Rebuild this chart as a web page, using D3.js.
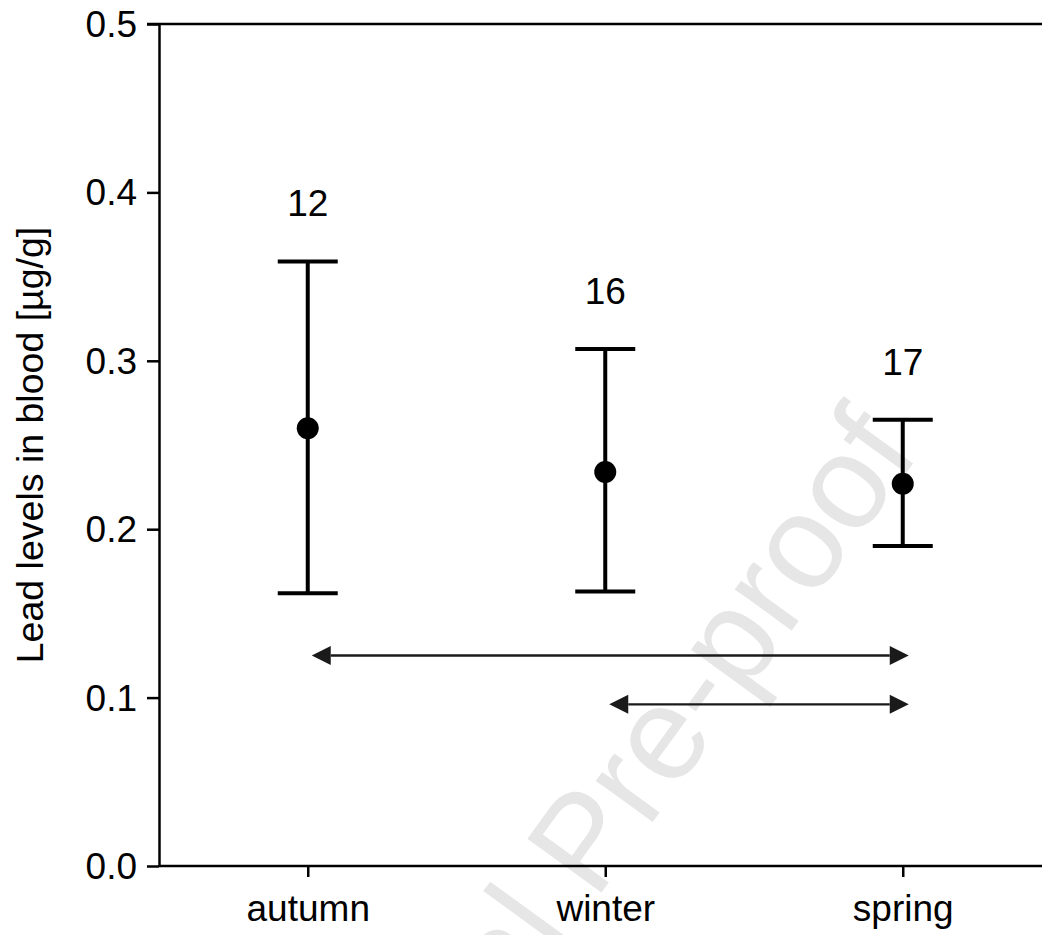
<!DOCTYPE html>
<html>
<head>
<meta charset="utf-8">
<script src="https://cdn.jsdelivr.net/npm/d3@7"></script>
<style>
    body { margin: 0; background: #fff; }
    svg text { font-family: "Liberation Sans", Arial, sans-serif; }
    .axis path, .axis line { stroke: #000; stroke-width: 2.5; }
</style>
</head>
<body>
<div id="chart"></div>
<script>
// data
const seasons = ["autumn", "winter", "spring"];
const means = [0.260, 0.234, 0.227];
const upper = [0.359, 0.307, 0.265];
const lower = [0.162, 0.163, 0.190];
const counts = ["12", "16", "17"];
const yTicks = [0, 0.1, 0.2, 0.3, 0.4, 0.5];

// significant differences (double arrows)
const arrowFrom = ["autumn", "winter"];
const arrowTo = ["spring", "spring"];
const arrowLevel = [0.125, 0.096];

let margin = {top: 24, left: 159, bottom: 69};
let width = 1042, height = 935;

let svg = d3.select("#chart").append("svg")
    .attr("width", width)
    .attr("height", height);

// watermark
svg.append("text")
    .attr("transform", "translate(317,1284) rotate(-54)")
    .attr("font-size", 133)
    .attr("fill", "#e6e6e6")
    .text("Journal Pre-proof");

let x = d3.scalePoint()
    .domain(seasons)
    .range([margin.left, margin.left + 892.5])
    .padding(0.5);

let y = d3.scaleLinear()
    .domain([0, 0.5])
    .range([height - margin.bottom, margin.top]);

// axes
let yAxis = d3.axisLeft(y)
    .tickValues(yTicks)
    .tickFormat(d3.format(".1f"))
    .tickSize(12)
    .tickSizeOuter(0)
    .tickPadding(10);

let xAxis = d3.axisBottom(x)
    .tickSize(11)
    .tickSizeOuter(0)
    .tickPadding(18);

let gy = svg.append("g")
    .attr("class", "axis")
    .attr("transform", "translate(" + margin.left + ",0)")
    .call(yAxis);
gy.selectAll("text").attr("font-size", 37).attr("fill", "#000").attr("dy", "0.34em");

let gx = svg.append("g")
    .attr("class", "axis")
    .attr("transform", "translate(0," + y(0) + ")")
    .call(xAxis);
gx.select(".domain").attr("d", "M" + x.range()[0] + ",0H" + x.range()[1]);
gx.selectAll("text").attr("font-size", 37).attr("fill", "#000");

// top frame line
svg.append("line")
    .attr("x1", margin.left - 12)
    .attr("x2", x.range()[1])
    .attr("y1", y(0.5))
    .attr("y2", y(0.5))
    .attr("stroke", "#000")
    .attr("stroke-width", 2.5);

// y label
svg.append("text")
    .attr("transform", "translate(43," + (y(0.25)) + ") rotate(-90)")
    .attr("text-anchor", "middle")
    .attr("font-size", 37.5)
    .text("Lead levels in blood [µg/g]");

// error bars
let bars = svg.append("g").selectAll("g")
    .data(seasons)
    .join("g");

bars.append("line")
    .attr("x1", d => x(d))
    .attr("x2", d => x(d))
    .attr("y1", (d, i) => y(lower[i]))
    .attr("y2", (d, i) => y(upper[i]))
    .attr("stroke", "#000")
    .attr("stroke-width", 4);

[upper, lower].forEach(function (arr) {
    bars.append("line")
        .attr("x1", d => x(d) - 30)
        .attr("x2", d => x(d) + 30)
        .attr("y1", (d, i) => y(arr[i]))
        .attr("y2", (d, i) => y(arr[i]))
        .attr("stroke", "#000")
        .attr("stroke-width", 4);
});

bars.append("circle")
    .attr("cx", d => x(d))
    .attr("cy", (d, i) => y(means[i]))
    .attr("r", 11)
    .attr("fill", "#000");

bars.append("text")
    .attr("x", d => x(d))
    .attr("y", (d, i) => y(upper[i]) - 45)
    .attr("text-anchor", "middle")
    .attr("font-size", 37)
    .text((d, i) => counts[i]);

// arrows
let head = 19, half = 9.5;
let arrows = svg.append("g").selectAll("g")
    .data(arrowLevel)
    .join("g");

arrows.append("line")
    .attr("x1", (d, i) => x(arrowFrom[i]) + 4 + head)
    .attr("x2", (d, i) => x(arrowTo[i]) + 6 - head)
    .attr("y1", d => y(d))
    .attr("y2", d => y(d))
    .attr("stroke", "#1a1a1a")
    .attr("stroke-width", 2.3);

arrows.append("path")
    .attr("fill", "#1a1a1a")
    .attr("d", function (d, i) {
        let xl = x(arrowFrom[i]) + 4, yy = y(d);
        return "M" + xl + "," + yy + "L" + (xl + head) + "," + (yy - half) + "L" + (xl + head) + "," + (yy + half) + "Z";
    });

arrows.append("path")
    .attr("fill", "#1a1a1a")
    .attr("d", function (d, i) {
        let xr = x(arrowTo[i]) + 6, yy = y(d);
        return "M" + xr + "," + yy + "L" + (xr - head) + "," + (yy - half) + "L" + (xr - head) + "," + (yy + half) + "Z";
    });
</script>
</body>
</html>
